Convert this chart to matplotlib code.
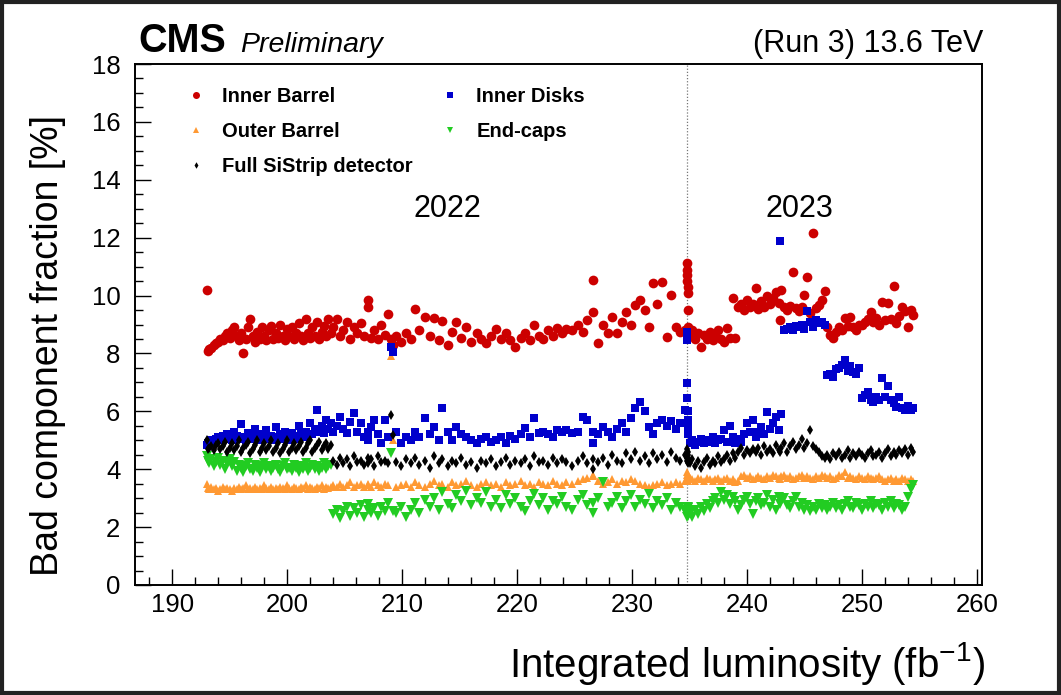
import matplotlib
matplotlib.use("Agg")
import matplotlib.pyplot as plt
from matplotlib import font_manager
from matplotlib.patches import Rectangle
from matplotlib.ticker import MultipleLocator

# Integrated luminosity of each run (fb^-1)
lumi = [
    # 2022, first block
    193.0, 193.1, 193.2, 193.4, 193.6, 193.8, 194.0, 194.2, 194.4, 194.6,
    194.8, 195.0, 195.2, 195.4, 195.6, 195.8, 196.0, 196.2, 196.4, 196.6,
    196.8, 197.0, 197.2, 197.4, 197.6, 197.8, 198.0, 198.2, 198.4, 198.6,
    198.8, 199.0, 199.2, 199.4, 199.6, 199.8, 200.0, 200.2, 200.4, 200.6,
    200.8, 201.0, 201.2, 201.4, 201.6, 201.8, 202.0, 202.2, 202.4, 202.6,
    202.8, 203.0, 203.2, 203.4, 203.6, 203.8,
    # 2022, second block
    204.0, 204.3, 204.6, 204.9, 205.2, 205.5, 205.8, 206.1, 206.4, 206.7,
    207.0, 207.0, 207.3, 207.6, 207.9, 208.2, 208.5, 208.8,
    209.05, 209.25,
    209.5, 209.9, 210.3, 210.8, 211.1, 211.5, 212.0, 212.4, 212.8, 213.2,
    213.5, 214.0, 214.3, 214.7, 215.1, 215.6, 216.0, 216.5, 216.9, 217.3,
    217.7, 218.2, 218.6, 219.0, 219.4, 219.8, 220.3, 220.7, 221.1, 221.5,
    221.9, 222.3, 222.7, 223.1, 223.5, 223.9, 224.3, 224.8, 225.3, 225.7,
    226.1, 226.6, 226.6, 227.0, 227.5, 227.9, 228.3, 228.7, 229.1, 229.5,
    229.9, 230.3, 230.7, 231.1, 231.5, 231.8, 232.2, 232.6, 233.0, 233.4,
    233.8, 234.2, 234.6,
    # year boundary
    234.75, 234.8, 234.8, 234.8, 234.85, 234.85, 234.9, 234.9,
    # 2023
    235.0, 235.25, 235.5, 235.75, 236.0, 236.25, 236.5, 236.75, 237.0, 237.25,
    237.5, 237.75, 238.0, 238.25, 238.5, 238.75, 239.0, 239.25, 239.5, 239.75,
    240.0, 240.25, 240.5, 240.75, 241.0, 241.25, 241.5, 241.75, 242.0, 242.25,
    242.5, 242.75, 242.85, 243.0, 243.25, 243.5, 243.75, 244.0, 244.25, 244.5,
    244.75, 245.0, 245.25, 245.5, 245.75, 246.0, 246.25, 246.5, 246.75, 247.0,
    247.25, 247.5, 247.75, 248.0, 248.25, 248.5, 248.75, 249.0, 249.25, 249.5,
    249.75, 250.0, 250.25, 250.5, 250.75, 251.0, 251.25, 251.5, 251.75, 252.0,
    252.25, 252.5, 252.75, 253.0, 253.25, 253.5, 253.75, 254.0, 254.25, 254.4,
]

# Bad component fraction per partition (%)
inner_barrel = [
    10.2, 8.1, 8.15, 8.2, 8.3, 8.35, 8.4, 8.5, 8.45, 8.6,
    8.7, 8.55, 8.8, 8.9, 8.6, 8.45, 8.7, 8.02, 8.5, 8.9,
    9.2, 8.6, 8.4, 8.75, 8.5, 8.9, 8.6, 8.45, 8.8, 8.95,
    8.5, 8.7, 8.55, 9.0, 8.6, 8.45, 8.85, 8.6, 8.9, 8.5,
    8.7, 9.05, 8.6, 8.45, 9.2, 8.7, 8.55, 8.9, 8.6, 9.1,
    8.5, 8.75, 8.95, 8.6, 9.2, 8.7,
    8.9, 9.2, 8.6, 8.8, 9.1, 8.5, 8.9, 8.7, 9.05, 8.6,
    9.84, 9.59, 8.55, 8.8, 8.5, 9.0, 8.65, 9.38,
    8.5, 8.3,
    8.6, 8.4, 8.7, 8.5, 9.52, 8.8, 9.27, 8.6, 9.21, 8.45,
    9.13, 8.3, 8.75, 9.1, 8.55, 8.9, 8.4, 8.7, 8.5, 8.35,
    8.6, 8.83, 8.5, 8.7, 8.45, 8.23, 8.55, 8.7, 8.45, 8.98,
    8.6, 8.5, 8.81, 8.6, 8.87, 8.7, 8.83, 8.81, 8.98, 8.75,
    9.15, 10.54, 9.44, 8.35, 8.98, 8.7, 9.27, 8.69, 9.1, 9.44,
    9.0, 9.67, 9.84, 9.5, 8.92, 10.42, 9.7, 10.48, 8.58, 10.02,
    8.92, 8.75, 8.8,
    11.11, 10.88, 10.7, 10.5, 10.3, 10.08, 9.5, 8.92,
    8.6, 8.8, 8.5, 8.7, 8.23, 8.65, 8.5, 8.75, 8.45, 8.6,
    8.8, 8.5, 8.4, 8.87, 8.55, 9.9, 8.52, 9.6, 9.7, 9.5,
    9.85, 9.6, 9.7, 10.25, 9.55, 9.8, 9.6, 10.0, 9.7, 9.9,
    10.13, 9.73, 9.15, 10.19, 9.6, 9.5, 9.65, 10.8, 9.56, 9.45,
    9.6, 10.02, 10.63, 9.4, 12.17, 9.56, 9.67, 9.85, 10.17, 8.9,
    8.64, 8.52, 8.75, 8.9, 8.81, 9.21, 8.95, 9.27, 8.9, 8.81,
    9.0, 8.98, 9.1, 9.2, 9.44, 9.1, 9.21, 9.0, 9.79, 9.15,
    9.73, 9.2, 10.33, 9.04, 9.3, 9.62, 9.45, 8.92, 9.5, 9.33,
]

inner_disks = [
    4.85, 4.9, 4.95, 5.0, 4.9, 5.05, 5.1, 5.0, 5.15, 5.05,
    5.2, 5.1, 5.0, 5.3, 5.15, 5.05, 5.55, 5.1, 5.0, 5.25,
    5.15, 5.05, 5.4, 5.1, 5.0, 5.2, 5.1, 5.35, 5.05, 5.15,
    5.0, 5.45, 5.1, 5.2, 5.05, 5.3, 5.1, 5.0, 5.25, 5.15,
    5.05, 5.5, 5.2, 5.1, 5.3, 5.15, 5.6, 5.2, 5.4, 6.05,
    5.3, 5.5, 5.25, 5.7, 5.4, 5.6,
    5.3, 5.5, 5.82, 5.4, 5.24, 5.64, 5.95, 5.3, 5.6, 5.1,
    5.01, 5.3, 5.47, 5.7, 5.2, 4.89, 5.7, 5.1,
    8.23, 8.05,
    5.3, 4.89, 5.1, 5.01, 5.3, 5.12, 5.76, 5.2, 5.47, 5.0,
    6.1, 5.3, 5.01, 5.47, 5.2, 5.12, 5.0, 4.89, 5.05, 5.12,
    4.95, 5.0, 5.1, 4.9, 5.15, 5.05, 5.2, 5.41, 5.1, 5.76,
    5.24, 5.3, 5.2, 5.1, 5.35, 5.3, 5.35, 5.24, 5.3, 5.82,
    5.7, 4.89, 5.3, 5.2, 5.47, 5.3, 5.12, 5.4, 5.6, 5.3,
    5.76, 6.1, 6.33, 6.0, 5.47, 5.2, 5.6, 5.7, 5.5, 5.65,
    5.4, 5.6, 6.04,
    8.75, 8.46, 6.99, 6.45, 6.0, 5.7, 5.5, 5.2,
    4.9, 5.0, 4.85, 4.95, 5.05, 4.9, 5.0, 4.95, 5.1, 4.9,
    5.0, 5.05, 5.35, 4.95, 5.49, 5.1, 4.9, 5.05, 4.95, 5.2,
    5.6, 5.3, 5.7, 5.1, 5.3, 5.45, 5.2, 5.99, 5.4, 5.6,
    5.8, 5.35, 11.89, 5.9, 8.8, 8.85, 8.9, 8.8, 8.95, 8.9,
    9.0, 8.85, 9.48, 9.1, 8.9, 9.15, 9.05, 9.1, 9.0, 7.25,
    7.3, 7.2, 7.45, 7.5, 7.6, 7.77, 7.4, 7.55, 7.35, 7.3,
    7.5, 6.45, 6.55, 6.68, 6.4, 6.33, 6.5, 6.4, 7.14, 6.5,
    6.89, 6.4, 6.3, 6.15, 6.5, 6.1, 6.05, 6.2, 6.04, 6.1,
]

outer_barrel = [
    3.5, 3.35, 3.3, 3.4, 3.3, 3.35, 3.25, 3.3, 3.4, 3.3,
    3.35, 3.3, 3.25, 3.35, 3.3, 3.4, 3.3, 3.35, 3.45, 3.3,
    3.35, 3.3, 3.4, 3.3, 3.35, 3.3, 3.45, 3.35, 3.3, 3.4,
    3.3, 3.35, 3.3, 3.4, 3.35, 3.3, 3.45, 3.35, 3.3, 3.4,
    3.35, 3.3, 3.4, 3.35, 3.45, 3.3, 3.4, 3.35, 3.3, 3.4,
    3.35, 3.45, 3.3, 3.4, 3.35, 3.4,
    3.45, 3.4, 3.5, 3.4, 3.45, 3.55, 3.4, 3.45, 3.5, 3.4,
    3.45, 3.5, 3.4, 3.55, 3.45, 3.4, 3.5, 3.45,
    7.91, 5.0,
    3.4, 3.45, 3.5, 3.4, 3.55, 3.45, 3.4, 3.5, 3.6, 3.45,
    3.5, 3.4, 3.55, 3.45, 3.5, 3.6, 3.45, 3.4, 3.5, 3.55,
    3.45, 3.5, 3.4, 3.55, 3.45, 3.5, 3.6, 3.45, 3.5, 3.4,
    3.55, 3.5, 3.45, 3.6, 3.5, 3.45, 3.55, 3.5, 3.6, 3.65,
    3.7, 3.8, 3.75, 3.6, 3.5, 3.55, 3.65, 3.5, 3.6, 3.55,
    3.65, 3.6, 3.5, 3.45, 3.4, 3.45, 3.5, 3.55, 3.45, 3.5,
    3.55, 3.5, 3.6,
    3.91, 3.8, 3.7, 3.65, 3.75, 3.6, 3.7, 3.85,
    3.7, 3.65, 3.6, 3.7, 3.65, 3.6, 3.7, 3.65, 3.6, 3.65,
    3.7, 3.6, 3.65, 3.7, 3.6, 3.65, 3.55, 3.6, 3.75, 3.8,
    3.7, 3.75, 3.65, 3.7, 3.75, 3.7, 3.65, 3.75, 3.7, 3.8,
    3.75, 3.7, 3.65, 3.75, 3.8, 3.7, 3.75, 3.65, 3.7, 3.75,
    3.8, 3.7, 3.75, 3.7, 3.65, 3.75, 3.7, 3.8, 3.75, 3.7,
    3.75, 3.65, 3.7, 3.8, 3.75, 3.9, 3.7, 3.75, 3.7, 3.65,
    3.75, 3.7, 3.65, 3.75, 3.7, 3.65, 3.7, 3.75, 3.65, 3.6,
    3.65, 3.7, 3.6, 3.65, 3.6, 3.7, 3.65, 3.6, 3.65, 3.6,
]

end_caps = [
    4.45, 4.3, 4.2, 4.35, 4.1, 4.25, 4.4, 4.15, 4.3, 4.0,
    4.2, 4.35, 4.1, 4.25, 3.95, 4.15, 4.05, 3.9, 4.1, 4.2,
    4.0, 3.95, 4.15, 4.05, 3.9, 4.1, 4.2, 4.0, 4.1, 3.95,
    4.05, 4.15, 4.0, 3.9, 4.1, 4.2, 4.0, 4.05, 3.95, 4.15,
    4.05, 3.9, 4.1, 4.0, 4.2, 3.95, 4.05, 4.15, 4.0, 4.1,
    3.95, 4.05, 4.2, 4.0, 4.1, 4.15,
    2.45, 2.6, 2.3, 2.55, 2.7, 2.4, 2.65, 2.5, 2.75, 2.35,
    2.6, 2.8, 2.5, 2.65, 2.4, 2.7, 2.55, 2.85,
    4.57, 2.55,
    2.5, 2.7, 2.35, 2.6, 2.85, 2.5, 2.95, 2.7, 3.0, 2.6,
    3.2, 2.8, 2.65, 3.1, 2.9, 3.25, 2.75, 3.0, 2.85, 3.2,
    2.7, 2.95, 2.65, 3.1, 2.8, 3.0, 2.7, 2.55, 2.9, 3.15,
    2.75, 3.0, 2.6, 2.9, 2.8, 3.05, 2.7, 2.6, 2.95, 3.1,
    2.75, 2.5, 2.85, 3.0, 3.57, 2.7, 2.85, 3.05, 2.65, 2.9,
    3.1, 2.7, 2.95, 2.8, 3.15, 2.65, 2.9, 2.75, 3.0, 2.6,
    2.85, 2.7, 2.55,
    2.36, 2.5, 2.6, 2.45, 2.7, 2.55, 2.4, 2.65,
    2.5, 2.35, 2.6, 2.45, 2.7, 2.55, 2.8, 2.65, 2.9, 3.0,
    2.85, 3.22, 2.95, 3.1, 2.8, 3.05, 2.9, 2.6, 2.75, 2.95,
    3.05, 2.8, 2.45, 2.9, 3.0, 2.75, 2.85, 3.1, 2.7, 2.95,
    2.6, 3.05, 2.8, 2.9, 3.0, 2.75, 2.65, 2.9, 3.05, 2.7,
    2.85, 2.6, 2.75, 2.55, 2.7, 2.6, 2.8, 2.65, 2.75, 2.6,
    2.7, 2.85, 2.65, 2.75, 2.6, 2.8, 2.9, 2.7, 2.65, 2.85,
    2.75, 2.6, 2.8, 2.7, 2.9, 2.65, 2.8, 2.75, 2.6, 2.85,
    2.7, 2.9, 2.65, 2.8, 2.75, 2.6, 2.7, 3.05, 3.3, 3.45,
]

full_sistrip = [
    5.0, 4.7, 4.75, 4.8, 4.65, 4.85, 4.9, 4.7, 4.8, 4.95,
    4.6, 4.75, 4.9, 4.65, 4.8, 5.0, 4.6, 4.75, 4.85, 4.95,
    4.55, 4.7, 4.85, 5.0, 4.6, 4.75, 4.9, 4.65, 4.8, 5.0,
    4.6, 4.75, 4.9, 4.55, 4.7, 4.85, 5.0, 4.6, 4.75, 4.9,
    4.65, 4.8, 4.95, 4.6, 4.75, 4.9, 5.0, 4.6, 4.75, 4.85,
    4.95, 4.65, 4.8, 4.9, 4.7, 4.85,
    4.3, 4.15, 4.4, 4.2, 4.35, 4.1, 4.45, 4.25, 4.3, 4.15,
    4.4, 4.2, 4.35, 4.1, 4.45, 4.25, 4.3, 4.2,
    5.87, 5.18,
    4.25, 4.1, 4.35, 4.2, 4.4, 4.15, 4.3, 4.05, 4.45, 4.2,
    4.35, 4.1, 4.3, 4.2, 4.4, 4.15, 4.25, 4.05, 4.3, 4.2,
    4.35, 4.1, 4.25, 4.4, 4.15, 4.3, 4.2, 4.35, 4.1, 4.45,
    4.25, 4.3, 4.15, 4.4, 4.2, 4.35, 4.25, 4.1, 4.3, 4.45,
    4.2, 4.0, 4.35, 4.25, 4.4, 4.15, 4.5, 4.3, 4.2, 4.55,
    4.35, 4.6, 4.3, 4.45, 4.2, 4.55, 4.35, 4.5, 4.25, 4.6,
    4.4, 4.3, 4.5,
    4.3, 4.5, 4.7, 4.4, 4.2, 4.6, 4.35, 4.5,
    4.2, 4.35, 4.1, 4.3, 4.05, 4.25, 4.4, 4.15, 4.3, 4.2,
    4.45, 4.25, 4.35, 4.5, 4.3, 4.55, 4.4, 4.6, 4.75, 4.5,
    4.65, 4.55, 4.7, 4.6, 4.75, 4.5, 4.8, 4.6, 4.7, 4.55,
    4.85, 4.65, 4.6, 4.75, 4.9, 4.6, 4.8, 4.95, 4.7, 4.85,
    5.05, 4.75, 4.9, 5.35, 4.8, 4.7, 4.6, 4.45, 4.4, 4.5,
    4.35, 4.55, 4.45, 4.6, 4.4, 4.5, 4.65, 4.4, 4.55, 4.45,
    4.6, 4.5, 4.4, 4.55, 4.65, 4.45, 4.5, 4.6, 4.4, 4.55,
    4.7, 4.45, 4.6, 4.5, 4.65, 4.55, 4.7, 4.5, 4.75, 4.6,
]

year_boundary = 234.8
year_labels = [("2022", 213.9), ("2023", 244.6)]

plt.rcParams["font.family"] = ["Liberation Sans", "DejaVu Sans"]
plt.rcParams["mathtext.fontset"] = "custom"
plt.rcParams["mathtext.rm"] = "Liberation Sans"
plt.rcParams["mathtext.it"] = "Liberation Sans:italic"

# condensed face for the axis numbers, when the system has one
installed = {f.name for f in font_manager.fontManager.ttflist}
if "Liberation Sans Narrow" in installed:
    tick_family, tick_size = "Liberation Sans Narrow", 21
else:
    tick_family, tick_size = "Liberation Sans", 18.5

W, H = 1061, 695
fig = plt.figure(figsize=(W / 100, H / 100), dpi=100)
ax = fig.add_axes([135 / W, (H - 585) / H, 847 / W, 521 / H])

series = [
    ("Inner Barrel", inner_barrel, "o", "#cc0000", 7.0, 2),
    ("Outer Barrel", outer_barrel, "^", "#ff9933", 5.4, 3),
    ("Full SiStrip detector", full_sistrip, "d", "black", 4.6, 6),
    ("Inner Disks", inner_disks, "s", "#0000cc", 6.0, 4),
    ("End-caps", end_caps, "v", "#22cc22", 6.9, 5),
]
handles = []
for label, vals, marker, color, ms, z in series:
    (h,) = ax.plot(lumi, vals, linestyle="none", marker=marker, color=color,
                   markersize=ms, markeredgewidth=0, zorder=z, label=label)
    handles.append(h)

ax.axvline(year_boundary, color="#777777", linestyle=(0, (1, 1.5)),
           linewidth=0.9, zorder=1)

for txt, xpos in year_labels:
    ax.text(xpos, 13.0, txt, ha="center", va="center", fontsize=22)

ax.set_xlim(186.77, 260.44)
ax.set_ylim(0, 18)
ax.xaxis.set_major_locator(MultipleLocator(10))
ax.xaxis.set_minor_locator(MultipleLocator(2))
ax.yaxis.set_major_locator(MultipleLocator(2))
ax.yaxis.set_minor_locator(MultipleLocator(0.5))
ax.tick_params(which="both", direction="in", top=False, right=False,
               width=1.0, labelsize=tick_size)
ax.tick_params(which="major", length=11.5)
ax.tick_params(which="minor", length=5.8)
ax.tick_params(axis="x", pad=6)
ax.tick_params(axis="y", pad=10.5)
for lab in ax.get_xticklabels() + ax.get_yticklabels():
    lab.set_family(tick_family)
for sp in ax.spines.values():
    sp.set_linewidth(1.4)

ax.set_xlabel("Integrated luminosity (fb$^{-1}$)", fontsize=29, ha="right")
ax.xaxis.set_label_coords(1.003, -0.105)
ax.set_ylabel("Bad component fraction [%]", fontsize=27, ha="right")
ax.yaxis.set_label_coords(-0.081, 0.902)

leg = ax.legend(handles=handles, ncol=2, loc="upper left",
                bbox_to_anchor=(0.060, 0.955), frameon=False,
                prop={"weight": "bold", "size": 14.5}, markerscale=0.72,
                handlelength=1.0, handletextpad=0.8, columnspacing=1.35,
                labelspacing=0.78, borderpad=0, borderaxespad=0)

fig.text(138 / W, (H - 52) / H, "CMS", fontsize=28.5, fontweight="bold",
         ha="left", va="baseline")
fig.text(240 / W, (H - 52) / H, "Preliminary", fontsize=20.5,
         fontstyle="italic", ha="left", va="baseline")
fig.text(983 / W, (H - 52) / H, "(Run 3) 13.6 TeV", fontsize=22,
         ha="right", va="baseline")

fig.patches.append(Rectangle((0.002, 0.003), 0.996, 0.994,
                             transform=fig.transFigure, fill=False,
                             edgecolor="#222222", linewidth=3))

fig.savefig("out.png", dpi=100)
